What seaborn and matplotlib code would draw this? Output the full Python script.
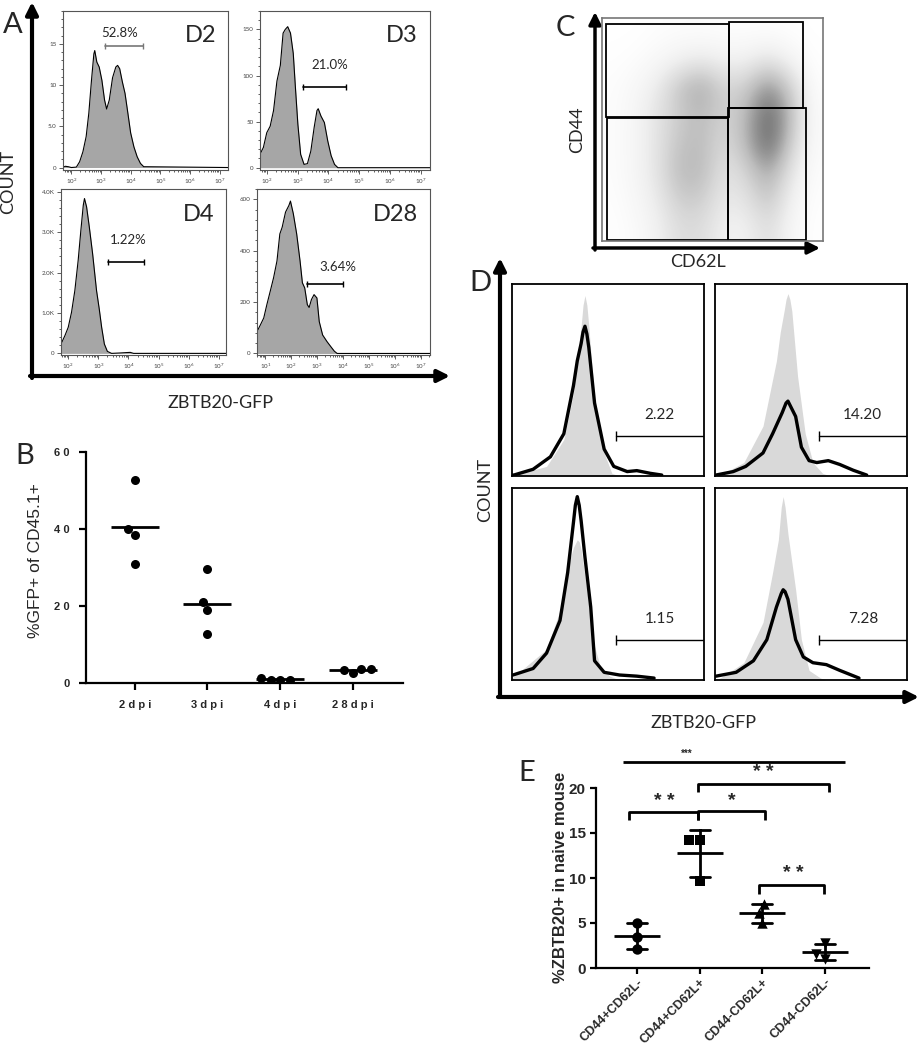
import numpy as np
import pandas as pd
import matplotlib
matplotlib.use('Agg')
import matplotlib.pyplot as plt
import seaborn as sns
from matplotlib.patches import Rectangle
from matplotlib.ticker import AutoMinorLocator, NullFormatter

# ---------------- panel A: GFP histograms (log10 intensity, count)
d2_logx = [1.72, 1.8, 1.9, 2.0, 2.17, 2.28, 2.39, 2.5, 2.59, 2.68, 2.76, 2.79, 2.86, 2.94, 3.03, 3.12,
           3.19, 3.28, 3.39, 3.5, 3.56, 3.63, 3.72, 3.81, 3.89, 4.0, 4.11, 4.22, 4.33, 4.44, 7.28]
d2_count = [0.05, 0.15, 0.1, 0.0, 0.05, 0.7, 1.9, 3.75, 6.6, 10.6, 13.8, 14.2, 12.8, 12.2, 10.6, 8.2,
            7.1, 8.2, 10.9, 12.2, 12.4, 12.0, 10.4, 9.0, 7.0, 4.2, 2.5, 1.3, 0.5, 0.1, 0.0]

d3_logx = [1.78, 1.8, 1.89, 2.0, 2.11, 2.22, 2.33, 2.44, 2.53, 2.6, 2.68, 2.77, 2.86, 2.93, 3.01, 3.1,
           3.21, 3.32, 3.43, 3.54, 3.63, 3.67, 3.76, 3.87, 3.98, 4.09, 4.2, 4.31, 7.3]
d3_count = [18, 16, 22, 38, 45, 62, 94, 111, 146, 150, 153, 146, 124, 87, 47, 14.5,
            3.6, 4.4, 18, 44, 62, 64, 56, 49, 29, 13, 3.6, 0, 0]

d4_logx = [1.76, 1.89, 2.0, 2.11, 2.22, 2.33, 2.42, 2.5, 2.54, 2.61, 2.7, 2.81, 2.94, 3.03, 3.11, 3.2,
           3.3, 3.44, 3.72, 3.94, 4.06, 4.17, 7.24]
d4_count = [232, 440, 646, 1019, 1557, 2302, 3048, 3669, 3834, 3627, 3130, 2468, 1557, 1101, 646, 232,
            50, 0, 10, 20, 25, 0, 0]

d28_logx = [0.68, 0.81, 0.94, 1.06, 1.19, 1.32, 1.45, 1.56, 1.65, 1.78, 1.91, 1.97, 2.08, 2.21, 2.34, 2.43,
            2.52, 2.62, 2.69, 2.78, 2.88, 2.99, 3.08, 3.21, 3.38, 3.53, 3.66, 3.77, 7.35]
d28_count = [85, 111, 138, 190, 242, 295, 360, 465, 491, 550, 576, 593, 544, 465, 360, 275,
             255, 190, 179, 210, 229, 216, 124, 72, 46, 26, 9, 0, 0]

a_names = ['D2', 'D3', 'D4', 'D28']
a_gate_pct = ['52.8%', '21.0%', '1.22%', '3.64%']

# ---------------- panel B: %GFP+ of CD45.1+ per mouse
b_days = ['2 d p i', '3 d p i', '4 d p i', '2 8 d p i']
b_2dpi = [52.8, 40.1, 38.4, 31.0]
b_3dpi = [29.5, 21.0, 18.9, 12.6]
b_4dpi = [0.9, 0.7, 0.9, 1.4]
b_28dpi = [3.7, 2.7, 3.5, 3.7]

# ---------------- panel C: CD62L x CD44 dot density (rows top -> bottom)
c_density = [
    [0.0, 0.0, 0.2, 0.3, 0.3, 0.2, 0.2, 0.2, 0.1, 0.0],
    [0.1, 0.3, 0.8, 1.5, 2.0, 1.5, 1.5, 2.5, 1.2, 0.1],
    [0.3, 0.8, 2.0, 4.5, 6.0, 3.5, 4.0, 7.0, 4.0, 0.3],
    [0.3, 1.0, 2.5, 4.0, 5.0, 3.5, 5.0, 9.0, 5.0, 0.5],
    [0.3, 1.0, 2.5, 4.5, 5.0, 3.0, 5.0, 9.0, 4.0, 0.5],
    [0.3, 1.0, 2.5, 5.0, 5.0, 2.5, 3.5, 6.0, 2.5, 0.3],
    [0.2, 0.8, 2.0, 4.0, 4.0, 2.0, 2.5, 4.5, 1.5, 0.2],
    [0.1, 0.5, 1.5, 3.0, 3.0, 1.5, 1.5, 3.0, 1.0, 0.1],
]
# gates: (x0, x1, y0, y1) as fraction of the plot
c_gates = [(0.018, 0.573, 0.556, 0.973), (0.576, 0.910, 0.597, 0.980),
           (0.022, 0.570, 0.003, 0.552), (0.570, 0.925, 0.003, 0.597)]

# ---------------- panel D: overlay histograms (position 0-100, height 0-100)
dtl_ctrl_x = [0, 1, 18, 27, 32, 34, 36, 37, 38, 39, 40, 43, 48, 52, 56, 100]
dtl_ctrl_y = [0, 0.5, 5, 19, 43, 62, 78, 89, 94, 89, 78, 40, 12, 1.4, 0, 0]
dtl_x = [0.5, 1, 11, 20, 27, 32, 34, 36, 37, 38, 39, 40, 43, 48, 53, 60, 65, 72, 78]
dtl_y = [0.5, 0.5, 3.5, 10, 22, 47, 60, 69, 75, 78, 74, 67, 38, 14, 5, 2.3, 2.8, 1.4, 0.5]

dtr_ctrl_x = [0, 2.6, 15, 25, 32, 34, 36, 37, 38, 39, 40, 43, 47, 51, 56, 60, 100]
dtr_ctrl_y = [0, 0.5, 7, 26, 60, 75, 86, 92, 95, 92, 86, 52, 22, 7, 1.4, 0, 0]
dtr_x = [0.5, 9.5, 16, 25, 30, 35, 37, 38, 39, 42, 45, 49, 53, 59, 65, 72, 79]
dtr_y = [0.5, 2.3, 5, 12, 22, 33, 38, 39, 37, 31, 15, 8, 7, 8, 6, 3, 0.5]

dbl_ctrl_x = [0, 18, 27, 30, 32, 34, 35, 36, 39, 42, 46, 51, 56, 100]
dbl_ctrl_y = [1, 16, 42, 62, 69, 73, 72, 68, 47, 21, 7, 2, 0, 0]
dbl_x = [0.5, 11, 18, 25, 29, 32, 33, 34, 35, 36, 38, 41, 43, 48, 56, 65, 74]
dbl_y = [2.6, 6, 14, 31, 56, 82, 91, 95.5, 91, 83, 64, 38, 10, 4, 2.6, 2, 1]

dbr_ctrl_x = [0, 2.6, 15, 25, 30, 33, 34.5, 35.5, 36.5, 38, 42, 45, 49, 55, 58, 100]
dbr_ctrl_y = [0, 1, 9, 30, 56, 73, 90, 95.5, 90, 76, 47, 21, 5, 1, 0, 0]
dbr_x = [0.5, 11, 20, 27, 32, 34.5, 35.5, 36.5, 38, 42, 46, 51, 58, 65, 75]
dbr_y = [2, 4, 10, 21, 38, 45, 47, 46, 42, 21, 12, 9, 8, 5, 1]

d_gate_pct = ['2.22', '14.20', '1.15', '7.28']

# ---------------- panel E: %ZBTB20+ in naive mouse
e_groups = ['CD44+CD62L-', 'CD44+CD62L+', 'CD44-CD62L+', 'CD44-CD62L-']
e_cd44hi_cd62lneg = [5.0, 3.5, 2.15]
e_cd44hi_cd62lpos = [14.26, 14.26, 9.67]
e_cd44lo_cd62lpos = [7.15, 6.1, 5.0]
e_cd44lo_cd62lneg = [1.0, 2.8, 1.6]
e_markers = ['o', 's', '^', 'v']

sns.set_theme(style='ticks')
plt.rcParams['font.family'] = ['Lato', 'DejaVu Sans']

W, H = 921, 1050
fig = plt.figure(figsize=(W / 100, H / 100), dpi=100)


def px_box(l, t, r, b):
    return [l / W, 1 - b / H, (r - l) / W, (b - t) / H]


ov = fig.add_axes([0, 0, 1, 1])
ov.set_xlim(0, W)
ov.set_ylim(H, 0)
ov.axis('off')


def arrow(x0, y0, x1, y1, lw=3):
    ov.annotate('', xy=(x1, y1), xytext=(x0, y0),
                arrowprops=dict(arrowstyle='-|>', lw=lw, color='black', mutation_scale=18,
                                shrinkA=0, shrinkB=0))


# ---------------- A
def draw_hist(box, logx, counts, xlim, ylim, yticks, ylabels, gate, label_pos, pct, name, gate_col):
    ax = fig.add_axes(px_box(*box))
    x = 10 ** np.array(logx)
    ax.fill_between(x, counts, 0, color='#a6a6a6', lw=0)
    ax.plot(x, counts, color='black', lw=0.8)
    ax.set_xscale('log')
    ax.set_xlim(10 ** xlim[0], 10 ** xlim[1])
    ax.xaxis.set_minor_formatter(NullFormatter())
    ax.set_ylim(*ylim)
    ax.set_yticks(yticks, ylabels)
    ax.yaxis.set_minor_locator(AutoMinorLocator(5))
    ax.tick_params(which='both', direction='out', colors='#444', labelsize=4.5, width=0.6)
    ax.tick_params(which='major', length=3, pad=1.5)
    ax.tick_params(which='minor', length=1.5)
    for s in ax.spines.values():
        s.set_color('#555')
        s.set_linewidth(0.8)
        s.set_visible(True)
    g0, g1, gy = gate
    ax.plot([10 ** g0, 10 ** g1], [gy, gy], color=gate_col, lw=1.2)
    ax.plot([10 ** g0, 10 ** g1], [gy, gy], color=gate_col, lw=0, marker='|', ms=4, mew=1)
    ax.text(10 ** label_pos[0], label_pos[1], pct, ha='center', va='center', fontsize=9.5)
    ax.text(0.93, 0.91, name, transform=ax.transAxes, ha='right', va='top', fontsize=17)
    return ax


draw_hist((63, 11, 228, 170), d2_logx, d2_count, (1.72, 7.28), (-0.3, 19), [0, 5, 10, 15],
          ['0', '5.0', '10', '15'], (3.14, 4.41, 14.8), (3.62, 16.3), a_gate_pct[0], a_names[0], '#777')
draw_hist((260, 11, 430, 170), d3_logx, d3_count, (1.78, 7.3), (-2.5, 170), [0, 50, 100, 150],
          ['0', '50', '100', '150'], (3.18, 4.58, 88), (4.05, 111), a_gate_pct[1], a_names[1], 'black')
draw_hist((61, 189, 226, 355), d4_logx, d4_count, (1.76, 7.24), (-40, 4070), [0, 1000, 2000, 3000, 4000],
          ['0', '1.0K', '2.0K', '3.0K', '4.0K'], (3.33, 4.53, 2260), (4.0, 2800), a_gate_pct[2], a_names[2], 'black')
draw_hist((257, 189, 430, 355), d28_logx, d28_count, (0.68, 7.35), (-6, 640), [0, 200, 400, 600],
          ['0', '200', '400', '600'], (2.62, 4.01, 269), (3.79, 337), a_gate_pct[3], a_names[3], 'black')

arrow(32, 378, 32, 2)
arrow(30, 376, 450, 376)
ov.text(13, 25, 'A', fontsize=21, ha='center', va='center')
ov.text(8, 182, 'COUNT', fontsize=13, rotation=90, ha='center', va='center')
ov.text(220, 403, 'ZBTB20-GFP', fontsize=13, ha='center', va='center')

# ---------------- B
df_b = pd.DataFrame({
    'day': np.repeat(b_days, 4),
    'gfp': np.concatenate([b_2dpi, b_3dpi, b_4dpi, b_28dpi]),
})
ax_b = fig.add_axes(px_box(86, 452, 403, 683))
sns.swarmplot(data=df_b, x='day', y='gfp', order=b_days, color='black', size=6.5, ax=ax_b, zorder=3)
sns.pointplot(data=df_b, x='day', y='gfp', order=b_days, estimator='mean', errorbar=None,
              color='black', marker='_', markersize=35, markeredgewidth=2, linestyle='none', ax=ax_b)
ax_b.set_xlim(-0.67, 3.69)
ax_b.set_ylim(0, 60)
ax_b.set_yticks([0, 20, 40, 60], ['0', '2 0', '4 0', '6 0'])
ax_b.set_xlabel('')
ax_b.set_ylabel('')
sns.despine(ax=ax_b)
for s in ['left', 'bottom']:
    ax_b.spines[s].set_linewidth(1.6)
    ax_b.spines[s].set_color('black')
ax_b.tick_params(width=1.6, length=5, color='black', pad=7)
for lab in ax_b.get_xticklabels() + ax_b.get_yticklabels():
    lab.set_fontfamily('Liberation Sans')
    lab.set_fontweight('bold')
    lab.set_fontsize(8)
ov.text(25, 456, 'B', fontsize=21, ha='center', va='center')
ov.text(36, 561, '%GFP+ of CD45.1+', fontsize=12.5, rotation=90, ha='center', va='center',
        family='Liberation Sans')

# ---------------- C
ax_c = fig.add_axes(px_box(602, 18, 823, 241))
ax_c.imshow(np.array(c_density), cmap='Greys', vmin=0, vmax=13, extent=[0, 1, 0, 1],
            interpolation='bicubic', aspect='auto', origin='upper')
for x0, x1, y0, y1 in c_gates:
    ax_c.add_patch(Rectangle((x0, y0), x1 - x0, y1 - y0, fill=False, ec='black', lw=1.3))
ax_c.set_xlim(0, 1)
ax_c.set_ylim(0, 1)
ax_c.set_xticks([])
ax_c.set_yticks([])
for s in ax_c.spines.values():
    s.set_color('#777')
    s.set_linewidth(1.2)
arrow(595, 250, 595, 12, lw=2.5)
arrow(593, 248, 820, 248, lw=2.5)
ov.text(565, 28, 'C', fontsize=21, ha='center', va='center')
ov.text(577, 130, 'CD44', fontsize=13, rotation=90, ha='center', va='center')
ov.text(698, 262, 'CD62L', fontsize=13, ha='center', va='center')

# ---------------- D
d_sets = [
    ((512, 284, 704, 476), dtl_ctrl_x, dtl_ctrl_y, dtl_x, dtl_y),
    ((715, 284, 907, 476), dtr_ctrl_x, dtr_ctrl_y, dtr_x, dtr_y),
    ((512, 488, 704, 680), dbl_ctrl_x, dbl_ctrl_y, dbl_x, dbl_y),
    ((715, 488, 907, 680), dbr_ctrl_x, dbr_ctrl_y, dbr_x, dbr_y),
]
for (box, cx, cy, sx, sy), pct in zip(d_sets, d_gate_pct):
    ax = fig.add_axes(px_box(*box))
    ax.fill_between(cx, cy, 0, color='#d9d9d9', lw=0)
    sns.lineplot(x=sx, y=sy, color='black', lw=2.4, sort=False, ax=ax)
    ax.set_xlim(0, 100)
    ax.set_ylim(0, 100)
    ax.set_xticks([])
    ax.set_yticks([])
    for s in ax.spines.values():
        s.set_color('black')
        s.set_linewidth(1.3)
    ax.plot([54, 100], [21, 21], color='black', lw=1)
    ax.plot([54], [21], color='black', marker='|', ms=7, mew=1)
    ax.text(77, 32, pct, ha='center', va='center', fontsize=11)
arrow(500, 697, 500, 258)
arrow(498, 697, 919, 697)
ov.text(480, 283, 'D', fontsize=21, ha='center', va='center')
ov.text(485, 490, 'COUNT', fontsize=13, rotation=90, ha='center', va='center')
ov.text(703, 723, 'ZBTB20-GFP', fontsize=13, ha='center', va='center')

# ---------------- E
df_e = pd.DataFrame({
    'group': np.repeat(e_groups, 3),
    'pct': np.concatenate([e_cd44hi_cd62lneg, e_cd44hi_cd62lpos, e_cd44lo_cd62lpos, e_cd44lo_cd62lneg]),
})
ax_e = fig.add_axes(px_box(596, 788, 869, 968))
for grp, mk in zip(e_groups, e_markers):
    sns.swarmplot(data=df_e[df_e['group'] == grp], x='group', y='pct', order=e_groups,
                  marker=mk, color='black', size=7.5, ax=ax_e)
sns.pointplot(data=df_e, x='group', y='pct', order=e_groups, estimator='mean', errorbar='sd',
              capsize=0.32, color='black', marker='_', markersize=33, markeredgewidth=2,
              linestyle='none', err_kws={'linewidth': 2}, ax=ax_e)
ax_e.set_xlim(-0.65, 3.7)
ax_e.set_ylim(0, 20)
ax_e.set_yticks([0, 5, 10, 15, 20])
ax_e.set_xlabel('')
ax_e.set_ylabel('')
sns.despine(ax=ax_e)
for s in ['left', 'bottom']:
    ax_e.spines[s].set_linewidth(1.6)
    ax_e.spines[s].set_color('black')
ax_e.tick_params(width=1.6, length=4, color='black')
ax_e.tick_params(axis='x', pad=2)
ax_e.set_xticks(range(4), e_groups, rotation=45, ha='right', rotation_mode='anchor')
for lab in ax_e.get_xticklabels():
    lab.set_fontfamily('Liberation Sans')
    lab.set_fontweight('bold')
    lab.set_fontsize(9)
for lab in ax_e.get_yticklabels():
    lab.set_fontfamily('Liberation Sans')
    lab.set_fontweight('bold')
    lab.set_fontsize(11)

# significance brackets: x1, x2, top, leg drop, text, text x, text size
e_brackets = [(-0.22, 3.31, 22.9, 0.0, '***', 0.79, 7), (0.97, 3.06, 20.5, 0.95, '* *', 2.02, 14),
              (-0.13, 0.98, 17.3, 0.9, '* *', 0.44, 14), (0.98, 2.05, 17.4, 0.95, '*', 1.52, 14),
              (1.94, 2.98, 9.2, 1.0, '* *', 2.49, 14)]
for x1, x2, top, drop, txt, tx, fs in e_brackets:
    ax_e.plot([x1, x1, x2, x2], [top - drop, top, top, top - drop], color='black', lw=2,
              clip_on=False, solid_capstyle='butt')
    ax_e.text(tx, top + 0.3, txt, ha='center', va='bottom', fontsize=fs,
              family='Liberation Sans', fontweight='bold')
ov.text(527, 773, 'E', fontsize=21, ha='center', va='center')
ov.text(560, 877, '%ZBTB20+ in naive mouse', fontsize=12, rotation=90, ha='center', va='center',
        family='Liberation Sans', fontweight='bold')

fig.savefig('out.png', dpi=100)
